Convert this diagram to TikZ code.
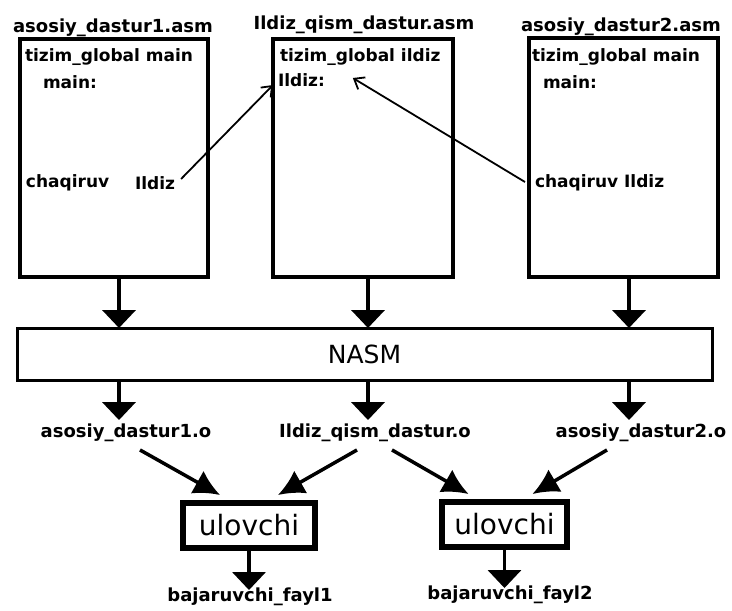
\documentclass[tikz,border=0pt]{standalone}
\usepackage{fontspec}
\setmainfont{DejaVu Sans}
\usetikzlibrary{arrows.meta}
\begin{document}
\begin{tikzpicture}[x=1pt,y=-1pt,
  every node/.style={inner sep=0pt, outer sep=0pt},
  filebox/.style={draw, line width=3.2pt},
  ttl/.style={font=\fontsize{18}{20}\selectfont\bfseries},
  code/.style={font=\fontsize{17}{19}\selectfont\bfseries, anchor=west},
  lbl/.style={font=\fontsize{18}{20}\selectfont\bfseries},
  toolbox/.style={draw, line width=3pt},
  linker/.style={draw, line width=5.5pt, minimum height=45pt, font=\fontsize{28}{30}\selectfont},
  fat/.style={line width=4pt, -{Triangle[width=33pt,length=18pt]}},
  thinarr/.style={line width=1.8pt, -{Straight Barb[length=9pt,width=14pt,line width=1.8pt]}},
  linkarr/.style={line width=3.5pt, -{Latex[length=26pt,width=26pt]}},
]
\useasboundingbox[fill=white] (0,0) rectangle (732,611);

% source files
\node[filebox, minimum width=188pt, minimum height=238pt] (b1) at (114,158) {};
\node[filebox, minimum width=180pt, minimum height=238pt] (b2) at (363,158) {};
\node[filebox, minimum width=189pt, minimum height=239pt] (b3) at (623.5,157.5) {};

\node[ttl] (t1) at (113,28) {asosiy\_dastur1.asm};
\node[ttl] (t2) at (364,25) {Ildiz\_qism\_dastur.asm};
\node[ttl] (t3) at (621,27) {asosiy\_dastur2.asm};

\node[code] (g1) at (25,57) {tizim\_global main};
\node[code] (m1) at (43,82) {main:};
\node[code] (c1) at (26,183) {chaqiruv};
\node[code] (i1) at (135,183) {Ildiz};

\node[code] (g2) at (280,57) {tizim\_global ildiz};
\node[code] (i2) at (278,80) {Ildiz:};

\node[code] (g3) at (532,57) {tizim\_global main};
\node[code] (m3) at (543,82) {main:};
\node[code] (c3) at (535,183) {chaqiruv Ildiz};

\draw[thinarr] ([xshift=6pt,yshift=4pt]i1.east) -- ([xshift=-5pt,yshift=-5pt]i2.west);
\draw[thinarr] ([xshift=-10pt,yshift=1pt]c3.west) -- ([xshift=28pt,yshift=2pt]i2.east);

% NASM
\node[toolbox, minimum width=695pt, minimum height=52pt,
      font=\fontsize{25}{28}\selectfont] (nasm) at (364.5,354) {NASM};

\coordinate (x1) at (119,0);
\coordinate (x2) at (368,0);
\coordinate (x3) at (629,0);

\draw[fat] (x1 |- b1.south) -- (x1 |- nasm.north);
\draw[fat] (x2 |- b2.south) -- (x2 |- nasm.north);
\draw[fat] (x3 |- b3.south) -- (x3 |- nasm.north);

% object files
\node[lbl] (o1) at (126,433) {asosiy\_dastur1.o};
\node[lbl] (o2) at (375,433) {Ildiz\_qism\_dastur.o};
\node[lbl] (o3) at (641,433) {asosiy\_dastur2.o};

\draw[fat] (x1 |- nasm.south) -- ([yshift=4pt]x1 |- o1.north);
\draw[fat] (x2 |- nasm.south) -- ([yshift=4pt]x2 |- o2.north);
\draw[fat] (x3 |- nasm.south) -- ([yshift=4pt]x3 |- o3.north);

% linkers
\node[linker, minimum width=132pt] (u1) at (249,525.5) {ulovchi};
\node[linker, minimum width=125pt] (u2) at (504.5,524.5) {ulovchi};

\draw[linkarr] ([xshift=14pt,yshift=-8pt]o1.south) -- ([xshift=-29pt,yshift=8pt]u1.north);
\draw[linkarr] ([xshift=-18pt,yshift=-8pt]o2.south) -- ([xshift=29pt,yshift=8pt]u1.north);
\draw[linkarr] ([xshift=17pt,yshift=-8pt]o2.south) -- ([xshift=-36pt,yshift=8pt]u2.north);
\draw[linkarr] ([xshift=-34pt,yshift=-8pt]o3.south) -- ([xshift=28pt,yshift=8pt]u2.north);

% executables
\node[lbl] (f1) at (250,597) {bajaruvchi\_fayl1};
\node[lbl] (f2) at (510,595) {bajaruvchi\_fayl2};

\draw[line width=3.5pt, -{Triangle[width=33pt,length=18pt]}] (u1.south) -- ([yshift=-2pt]u1.south |- f1.north);
\draw[line width=3.5pt, -{Triangle[width=33pt,length=18pt]}] (u2.south) -- ([yshift=-2pt]u2.south |- f2.north);
\end{tikzpicture}
\end{document}
